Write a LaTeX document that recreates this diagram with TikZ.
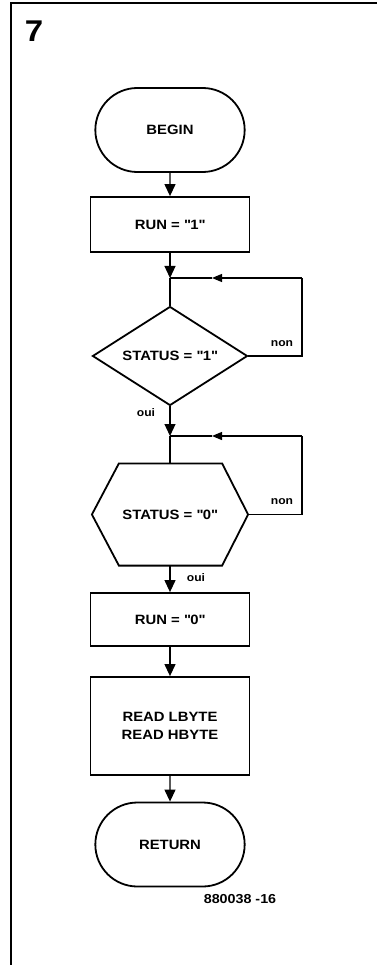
\documentclass[tikz,border=0pt]{standalone}
\usepackage{fontspec}
\setmainfont{Liberation Sans}[FakeStretch=1.1]
\usetikzlibrary{arrows.meta}
\usetikzlibrary{positioning}
\usetikzlibrary{shapes.geometric}
\usetikzlibrary{shapes.misc}

\begin{document}
\begin{tikzpicture}[x=1pt,y=-1pt,->,>={Triangle[length=12pt,width=11pt]},line width=1.2pt]
			\tikzset{terminal/.style = {shape=rounded rectangle, draw, line width=1.8pt, minimum width=156pt, minimum height=84pt, font=\bfseries\fontsize{13.5}{18}\selectfont}}
			\tikzset{process/.style = {shape=rectangle, draw, line width=1.8pt, minimum width=159pt, font=\bfseries\fontsize{13.5}{18}\selectfont, align=center}}
			\tikzset{decision/.style = {shape=diamond, aspect=1.57, inner sep=0pt, draw, line width=1.8pt, minimum width=155pt, minimum height=99pt, font=\bfseries\fontsize{13.5}{18}\selectfont}}
			\tikzset{hexbox/.style = {shape=rectangle, minimum width=155pt, minimum height=101pt, font=\bfseries\fontsize{13.5}{18}\selectfont}}
			\tikzset{answer/.style = {font=\bfseries\fontsize{11}{13}\selectfont, inner sep=1pt}}
			\useasboundingbox (0,0) rectangle (377,965);
			\draw[-, line width=1.6pt] (11,965) -- (11,3) -- (377,3);
			\node[font=\bfseries\fontsize{30}{30}\selectfont] (fignum) at (34,31) {7};
			
			\node[terminal] (begin) at (170,130) {BEGIN};
			\node[process, minimum height=55pt] (run1) at (170,224.5) {RUN = \textquotedbl1\textquotedbl};
			\coordinate (j1) at (170,278);
			\node[decision] (st1) at (170,356) {STATUS = \textquotedbl1\textquotedbl};
			\coordinate (c1) at (302,278);
			\coordinate (m1) at (212,278);
			\coordinate (j2) at (170,436);
			\node[hexbox] (st0) at (170,514.5) {STATUS = \textquotedbl0\textquotedbl};
			\coordinate (c2) at (302,436);
			\coordinate (m2) at (212,436);
			\node[process, minimum height=53pt] (run0) at (170,619.5) {RUN = \textquotedbl0\textquotedbl};
			\node[process, minimum height=98pt] (read) at (170,726) {READ LBYTE\\READ HBYTE};
			\node[terminal] (return) at (170,844.5) {RETURN};
			\node[font=\bfseries\fontsize{13}{15}\selectfont] (code) at (240,899) {880038 -16};
			
			% hexagon round STATUS = "0"
			\draw[-, line width=1.8pt] (st0.west) -- ([xshift=27pt]st0.north west) -- ([xshift=-26pt]st0.north east) -- (st0.east) -- ([xshift=-26pt]st0.south east) -- ([xshift=27pt]st0.south west) -- cycle;
			
			\draw (begin) -- (run1);
			\draw (run1) -- (j1);
			\draw[-] (j1) -- (st1);
			\draw[-] (st1.east) -| (c1);
			\draw[>={Triangle[length=10pt,width=8pt]}] (c1) -- (m1);
			\draw[-] (m1) -- (j1);
			\node[answer] (non1) at (282,344) {non};
			\draw (st1) -- (j2);
			\node[answer] (oui1) at (146,413) {oui};
			\draw[-] (j2) -- (st0.north);
			\draw[-] (st0.east) -| (c2);
			\draw[>={Triangle[length=10pt,width=8pt]}] (c2) -- (m2);
			\draw[-] (m2) -- (j2);
			\node[answer] (non0) at (282,502) {non};
			\draw (st0.south) -- (run0);
			\node[answer] (oui0) at (196,578) {oui};
			\draw (run0) -- (read);
			\draw (read) -- (return);
\end{tikzpicture}
\end{document}
